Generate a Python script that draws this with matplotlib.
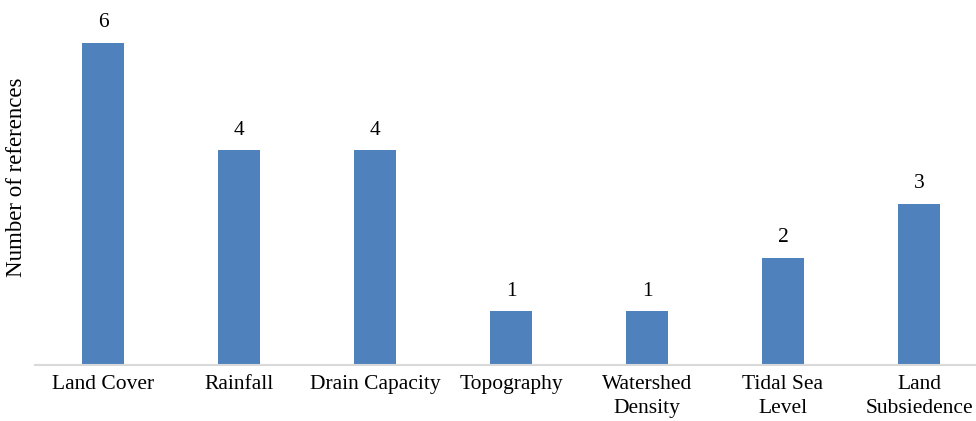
import matplotlib
matplotlib.use('Agg')
import matplotlib.pyplot as plt

plt.rcParams['font.family'] = ['Liberation Serif', 'DejaVu Serif']

categories = ['Land Cover', 'Rainfall', 'Drain Capacity', 'Topography',
              'Watershed\nDensity', 'Tidal Sea\nLevel', 'Land\nSubsiedence']
counts = [6, 4, 4, 1, 1, 2, 3]

fig = plt.figure(figsize=(9.76, 4.21), dpi=100)
ax = fig.add_axes([35/976, 56/421, 952/976, 365/421])

x = range(len(categories))
bars = ax.bar(x, counts, width=0.316, color='#4f81bd')
for b, v in zip(bars, counts):
    ax.text(b.get_x() + b.get_width()/2, v + 0.2, str(v), ha='center', va='bottom', fontsize=15.5)

ax.set_xlim(-0.5, 6.5)
ax.set_ylim(0, 6.8)
ax.set_xticks(list(x))
ax.set_xticklabels(categories, fontsize=15.5, linespacing=1.4)
ax.tick_params(axis='x', length=0, pad=7)
ax.set_yticks([])
for s in ['top', 'right', 'left']:
    ax.spines[s].set_visible(False)
ax.spines['bottom'].set_color('#d9d9d9')
ax.spines['bottom'].set_linewidth(1.5)

fig.text(17/976, 1 - 177/421, 'Number of references', rotation=90, ha='center', va='center', fontsize=16.5)

fig.savefig('out.png', dpi=100)
